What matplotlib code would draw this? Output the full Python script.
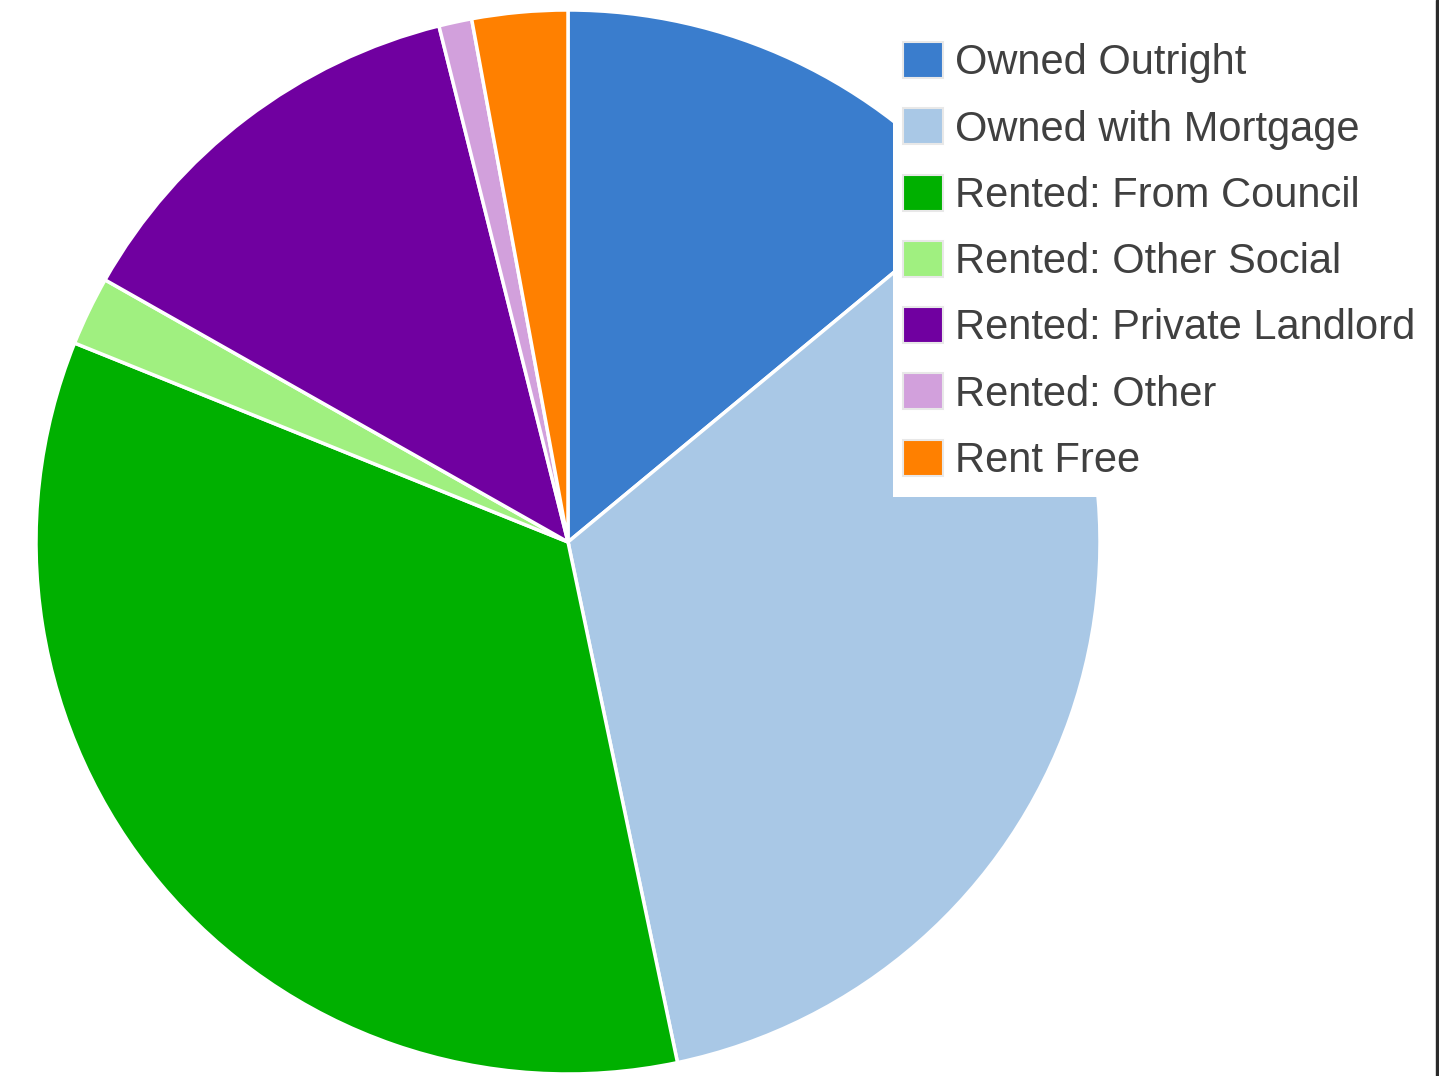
import matplotlib
matplotlib.use("Agg")
import matplotlib.pyplot as plt
from matplotlib.patches import Rectangle

# tenure shares (percent), clockwise from 12 o'clock
labels = ["Owned Outright", "Owned with Mortgage", "Rented: From Council",
          "Rented: Other Social", "Rented: Private Landlord", "Rented: Other",
          "Rent Free"]
shares = [14.0, 32.7, 34.4, 2.1, 12.9, 1.0, 2.9]
colors = ["#3a7dcd", "#a9c8e6", "#00b000", "#a0f080", "#7000a0",
          "#d2a0dc", "#ff8000"]

W, H = 1439, 1076
fig = plt.figure(figsize=(W / 100, H / 100), dpi=100)
ax = fig.add_axes([0, 0, 1, 1])

wedges, _ = ax.pie(shares, colors=colors, startangle=90, counterclock=False,
                   radius=532, center=(568, H - 542), frame=True,
                   wedgeprops=dict(edgecolor="white", linewidth=2.5))
ax.set_xlim(0, W)
ax.set_ylim(0, H)
ax.set_aspect("equal")
ax.axis("off")

# white panel behind the legend, it covers part of the pie
ax.add_patch(Rectangle((893, H - 497), 540, 477, facecolor="white",
                       edgecolor="none", zorder=4))

leg = ax.legend(wedges, labels, loc="upper left",
                bbox_to_anchor=(903 / W, 1 - 42 / H),
                prop={"family": "Liberation Sans", "size": 30},
                frameon=False,
                handlelength=0.95, handleheight=0.95, handletextpad=0.3,
                labelspacing=0.6, borderpad=0, borderaxespad=0)
leg.set_zorder(5)
for t in leg.get_texts():
    t.set_color("#404040")
for h in leg.legend_handles:
    h.set_edgecolor("#e8e8e8")
    h.set_linewidth(1.5)

# dark frame strip on the right edge
fig.patches.append(Rectangle((1436 / W, 0), 3 / W, 1, transform=fig.transFigure,
                             color="#2a2a2a", zorder=10))

fig.savefig("out.png", dpi=100)
